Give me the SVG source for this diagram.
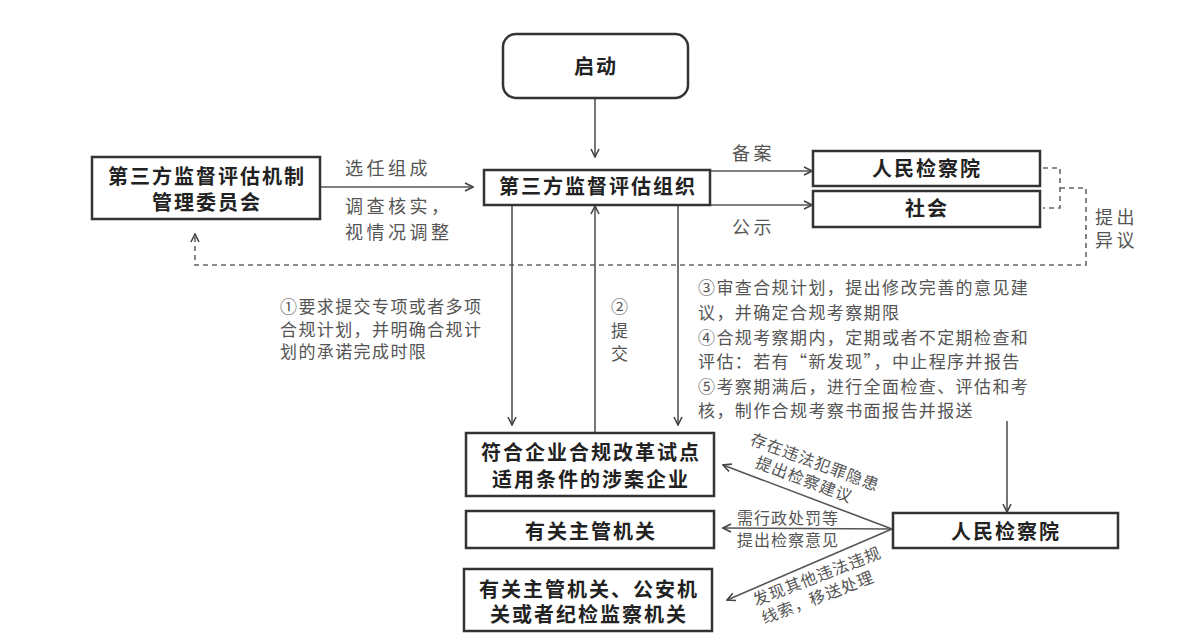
<svg xmlns="http://www.w3.org/2000/svg" width="1198" height="639" viewBox="0 0 1198 639">
<defs>
<marker id="arr" viewBox="0 0 10 10" refX="9" refY="5" markerWidth="10" markerHeight="10" markerUnits="userSpaceOnUse" orient="auto">
<path d="M1,1 L9,5 L1,9" fill="none" stroke="#444" stroke-width="1.6"/>
</marker>
</defs>
<style>
.box{fill:#fff;stroke:#333;stroke-width:2.5}
.bt{font-family:"Noto Sans CJK SC",sans-serif;font-weight:bold;font-size:20px;fill:#222;text-anchor:middle;letter-spacing:2px}
.ln{fill:none;stroke:#555;stroke-width:1.6}
.dash{fill:none;stroke:#666;stroke-width:1.6;stroke-dasharray:5 4}
.lb{font-family:"Noto Sans CJK SC",sans-serif;font-size:18px;fill:#555;letter-spacing:3.5px}
.sm{font-family:"Noto Sans CJK SC",sans-serif;font-size:17px;fill:#555;letter-spacing:1.4px}
.rt{font-family:"Noto Sans CJK SC",sans-serif;font-size:16px;fill:#555;text-anchor:middle;letter-spacing:1px}
</style>
<rect width="1198" height="639" fill="#fff"/>

<g id="connectors">
<line class="ln" x1="595" y1="99" x2="595" y2="157" marker-end="url(#arr)"/>
<line class="ln" x1="320" y1="187" x2="473" y2="187" marker-end="url(#arr)"/>
<line class="ln" x1="711" y1="171" x2="812" y2="171" marker-end="url(#arr)"/>
<line class="ln" x1="711" y1="205" x2="812" y2="205" marker-end="url(#arr)"/>
<path class="dash" d="M1043,168 H1060 V208 H1043 M1060,188 H1086 V265 H195 V234" marker-end="url(#arr)"/>
<line class="ln" x1="512" y1="205" x2="512" y2="425" marker-end="url(#arr)"/>
<line class="ln" x1="595" y1="433" x2="595" y2="206" marker-end="url(#arr)"/>
<line class="ln" x1="678" y1="205" x2="678" y2="425" marker-end="url(#arr)"/>
<line class="ln" x1="1007" y1="421" x2="1007" y2="512" marker-end="url(#arr)"/>
<line class="ln" x1="892" y1="529" x2="723" y2="465" marker-end="url(#arr)"/>
<line class="ln" x1="892" y1="529" x2="723" y2="528" marker-end="url(#arr)"/>
<line class="ln" x1="892" y1="529" x2="727" y2="600" marker-end="url(#arr)"/>
</g>

<g id="labels">
<text class="lb" x="345" y="175">选任组成</text>
<text class="lb" x="345" y="213">调查核实，<tspan x="345" dy="26">视情况调整</tspan></text>
<text class="lb" x="732" y="160">备案</text>
<text class="lb" x="732" y="234">公示</text>
<text class="lb" x="1095" y="224">提出<tspan x="1095" dy="23">异议</tspan></text>
<text class="sm" x="280" y="313">①要求提交专项或者多项<tspan x="280" dy="23">合规计划，并明确合规计</tspan><tspan x="280" dy="22">划的承诺完成时限</tspan></text>
<text class="sm" x="611" y="313">②<tspan x="611" dy="24">提</tspan><tspan x="611" dy="23">交</tspan></text>
<text class="sm" x="698" y="294">③审查合规计划，提出修改完善的意见建<tspan x="698" dy="25">议，并确定合规考察期限</tspan><tspan x="698" dy="25">④合规考察期内，定期或者不定期检查和</tspan><tspan x="698" dy="24">评估：若有“新发现”，中止程序并报告</tspan><tspan x="698" dy="25">⑤考察期满后，进行全面检查、评估和考</tspan><tspan x="698" dy="24">核，制作合规考察书面报告并报送</tspan></text>
<text class="rt" transform="translate(815,462) rotate(20.6)" y="6">存在违法犯罪隐患<tspan x="-4" dy="20">提出检察建议</tspan></text>
<text class="rt" x="788" y="524">需行政处罚等<tspan x="788" dy="22">提出检察意见</tspan></text>
<text class="rt" transform="translate(817,576) rotate(-21)" y="6">发现其他违法违规<tspan x="-7" dy="20">线索，移送处理</tspan></text>
</g>

<g id="n-start">
<rect class="box" x="503" y="34" width="185" height="64" rx="13"/>
<text class="bt" x="596" y="74">启动</text>
</g>
<g id="n-committee">
<rect class="box" x="92" y="157" width="228" height="62"/>
<text class="bt" x="207" y="184">第三方监督评估机制<tspan x="207" dy="26">管理委员会</tspan></text>
</g>
<g id="n-org">
<rect class="box" x="484" y="170" width="226" height="35"/>
<text class="bt" x="598" y="194">第三方监督评估组织</text>
</g>
<g id="n-procuratorate-top">
<rect class="box" x="813" y="151" width="227" height="35"/>
<text class="bt" x="927" y="176">人民检察院</text>
</g>
<g id="n-society">
<rect class="box" x="813" y="191" width="227" height="36"/>
<text class="bt" x="927" y="216">社会</text>
</g>
<g id="n-enterprise">
<rect class="box" x="466" y="433" width="248" height="63"/>
<text class="bt" x="591" y="460">符合企业合规改革试点<tspan x="591" dy="27">适用条件的涉案企业</tspan></text>
</g>
<g id="n-authority">
<rect class="box" x="466" y="511" width="248" height="37"/>
<text class="bt" x="591" y="539">有关主管机关</text>
</g>
<g id="n-agencies">
<rect class="box" x="464" y="569" width="248" height="62"/>
<text class="bt" x="589" y="597">有关主管机关、公安机<tspan x="589" dy="25">关或者纪检监察机关</tspan></text>
</g>
<g id="n-procuratorate-bottom">
<rect class="box" x="893" y="513" width="225" height="35"/>
<text class="bt" x="1006" y="539">人民检察院</text>
</g>
</svg>
